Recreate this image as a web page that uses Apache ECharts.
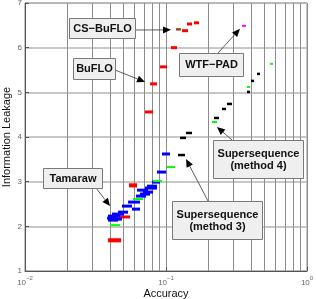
<!DOCTYPE html>
<html><head><meta charset="utf-8">
<script src="https://cdn.jsdelivr.net/npm/echarts@6/dist/echarts.min.js"></script>
<style>html,body{margin:0;padding:0;background:#fff}#c{width:316px;height:299px}</style>
</head><body><div id="c"></div>
<script>
// Each mark: [accuracy low, accuracy high, information leakage]
var redMarks = [
  [0.1409, 0.1529, 6.53], [0.1579, 0.1714, 6.556], [0.1299, 0.1432, 6.38],
  [0.1085, 0.1197, 6.00], [0.0907, 0.1016, 5.57], [0.0770, 0.0863, 5.19],
  [0.0710, 0.0809, 4.56], [0.0547, 0.0623, 2.93], [0.0547, 0.0623, 2.905],
  [0.0464, 0.0556, 2.21], [0.0388, 0.0480, 1.70], [0.0388, 0.0480, 1.675]
];
var brownMarks = [[0.1177, 0.1277, 6.41]];
var blueMarks = [
  [0.0937, 0.1068, 3.62], [0.0863, 0.1000, 3.215], [0.0796, 0.0907, 2.99],
  [0.0733, 0.0863, 2.90], [0.0710, 0.0863, 2.857], [0.0623, 0.0745, 2.81],
  [0.0687, 0.0809, 2.767], [0.0654, 0.0770, 2.722], [0.0613, 0.0721, 2.677],
  [0.0538, 0.0654, 2.543], [0.0487, 0.0574, 2.453], [0.0574, 0.0654, 2.386],
  [0.0457, 0.0538, 2.318], [0.0414, 0.0504, 2.274], [0.0388, 0.0472, 2.229],
  [0.0382, 0.0457, 2.184], [0.0401, 0.0487, 2.161], [0.0388, 0.0457, 2.139]
];
var greenMarks = [
  [0.5465, 0.5741, 5.637], [0.3754, 0.3942, 5.121], [0.2120, 0.2299, 4.336],
  [0.1016, 0.1158, 3.327], [0.0809, 0.0937, 3.013], [0.0583, 0.0687, 2.61],
  [0.0401, 0.0472, 2.027]
];
var blackMarks = [
  [0.4421, 0.4642, 5.413], [0.4007, 0.4209, 5.256], [0.3754, 0.3942, 5.009],
  [0.2708, 0.2938, 4.74], [0.2496, 0.2665, 4.628], [0.2190, 0.2376, 4.426],
  [0.1387, 0.1529, 4.09], [0.1257, 0.1387, 3.98], [0.1216, 0.1364, 3.596]
];
var magentaMarks = [[0.3459, 0.3694, 6.489]];

var minorGridX = [0.02,0.03,0.04,0.05,0.06,0.07,0.08,0.09,0.2,0.3,0.4,0.5,0.6,0.7,0.8,0.9];
var yTicks = [1,2,3,4,5,6,7];

// annotations: label, box [x,y,w,h] in px, arrow start px, arrow tip in data coords
var annotations = [
  {text:'CS\u2212BuFLO', box:[69,18,66,20], from:[135,30], tip:[0.1085, 6.399]},
  {text:'BuFLO', box:[73,58,42,21], from:[115,70], tip:[0.0710, 5.233]},
  {text:'WTF\u2212PAD', box:[179,53,64,23], from:[218,53], tip:[0.3348, 6.422]},
  {text:'Tamaraw', box:[43,168,59,20], from:[96,188], tip:[0.0401, 2.453]},
  {text:'Supersequence\n(method 4)', box:[213,140,90,38], from:[232,140], tip:[0.2299, 4.224]},
  {text:'Supersequence\n(method 3)', box:[172,201,90,38], from:[208,201], tip:[0.1387, 3.507]}
];

function dashSeries(name, data, color, h) {
  return {
    type: 'custom', name: name, data: data, itemStyle: {color: color},
    encode: {x: [0, 1], y: 2}, clip: false, z: 5,
    renderItem: function (params, api) {
      var p1 = api.coord([api.value(0), api.value(2)]);
      var p2 = api.coord([api.value(1), api.value(2)]);
      return {type: 'rect', shape: {x: p1[0], y: p1[1] - h / 2, width: p2[0] - p1[0], height: h},
        style: {fill: api.visual('color')}};
    }
  };
}

var chart = echarts.init(document.getElementById('c'));
var supMap = {'0.01': '\u22122', '0.1': '\u22121', '1': '0'};
var series = [
  dashSeries('red', redMarks, '#ff0000', 3),
  dashSeries('brown', brownMarks, '#a0441c', 2.5),
  dashSeries('blue', blueMarks, '#0000ff', 3),
  dashSeries('green', greenMarks, '#00ff00', 2),
  dashSeries('black', blackMarks, '#000000', 2.5),
  dashSeries('magenta', magentaMarks, '#ff00ff', 2)
];
series[0].markLine = {
  silent: true, symbol: 'none', label: {show: false}, z: 1,
  lineStyle: {color: '#8c8c8c', width: 1, type: 'solid'},
  data: minorGridX.map(function (v) { return {xAxis: v}; })
};
chart.setOption({
  animation: false,
  grid: {left: 25, right: 9, top: 3, bottom: 28, show: true, borderColor: '#8c8c8c', borderWidth: 1,
    containLabel: false, outerBoundsMode: 'none'},
  xAxis: {
    type: 'log', logBase: 10, min: 0.01, max: 1,
    name: 'Accuracy', nameLocation: 'middle', nameGap: 17, nameMoveOverlap: false,
    nameTextStyle: {fontFamily: 'Liberation Sans', fontSize: 11, color: '#111'},
    axisLine: {lineStyle: {color: '#555'}},
    axisTick: {inside: true, length: 4, lineStyle: {color: '#555'}},
    splitLine: {show: true, lineStyle: {color: '#8c8c8c', width: 1}},
    minorTick: {show: false}, minorSplitLine: {show: false},
    axisLabel: {
      margin: 4, fontFamily: 'Liberation Sans',
      formatter: function (v) {
        var k = String(+v.toPrecision(3));
        return '{b|10}{s|' + (supMap[k] || '') + '}';
      },
      rich: {
        b: {fontSize: 8, color: '#666', fontFamily: 'Liberation Sans', lineHeight: 12, verticalAlign: 'bottom'},
        s: {fontSize: 6, color: '#666', fontFamily: 'Liberation Sans', lineHeight: 8, verticalAlign: 'top'}
      }
    }
  },
  yAxis: {
    type: 'value', min: yTicks[0], max: yTicks[yTicks.length - 1], interval: 1,
    name: 'Information Leakage', nameLocation: 'middle', nameGap: 13, nameMoveOverlap: false,
    nameTextStyle: {fontFamily: 'Liberation Sans', fontSize: 11, color: '#111'},
    axisLine: {lineStyle: {color: '#555'}},
    axisTick: {inside: true, length: 4, lineStyle: {color: '#555'}},
    splitLine: {show: true, lineStyle: {color: '#b4b4b4', width: 1.5}},
    axisLabel: {margin: 3, fontSize: 8, color: '#666', fontFamily: 'Liberation Sans'}
  },
  series: series
});

var graphics = [];
annotations.forEach(function (a) {
  var b = a.box;
  var tip = chart.convertToPixel({gridIndex: 0}, a.tip);
  var dx = tip[0] - a.from[0], dy = tip[1] - a.from[1];
  var len = Math.sqrt(dx * dx + dy * dy), ux = dx / len, uy = dy / len;
  var hl = 8, hw = 3.5;
  var bx = tip[0] - ux * hl, by = tip[1] - uy * hl;
  graphics.push({type: 'line', z: 20, shape: {x1: a.from[0], y1: a.from[1], x2: bx, y2: by},
    style: {stroke: '#333', lineWidth: 0.8}});
  graphics.push({type: 'polygon', z: 20, shape: {points: [tip, [bx - uy * hw, by + ux * hw], [bx + uy * hw, by - ux * hw]]},
    style: {fill: '#000'}});
  graphics.push({type: 'rect', z: 21, shape: {x: b[0] + 0.5, y: b[1] + 0.5, width: b[2], height: b[3]},
    style: {fill: '#efefef', stroke: '#7a7a7a', lineWidth: 1}});
  graphics.push({type: 'text', z: 22, x: b[0] + b[2] / 2 + 0.5, y: b[1] + b[3] / 2 + 0.5,
    style: {text: a.text, align: 'center', verticalAlign: 'middle', fill: '#111',
      font: 'bold 11px "Liberation Sans"', lineHeight: 12}});
});
chart.setOption({graphic: graphics});
</script>
</body></html>
